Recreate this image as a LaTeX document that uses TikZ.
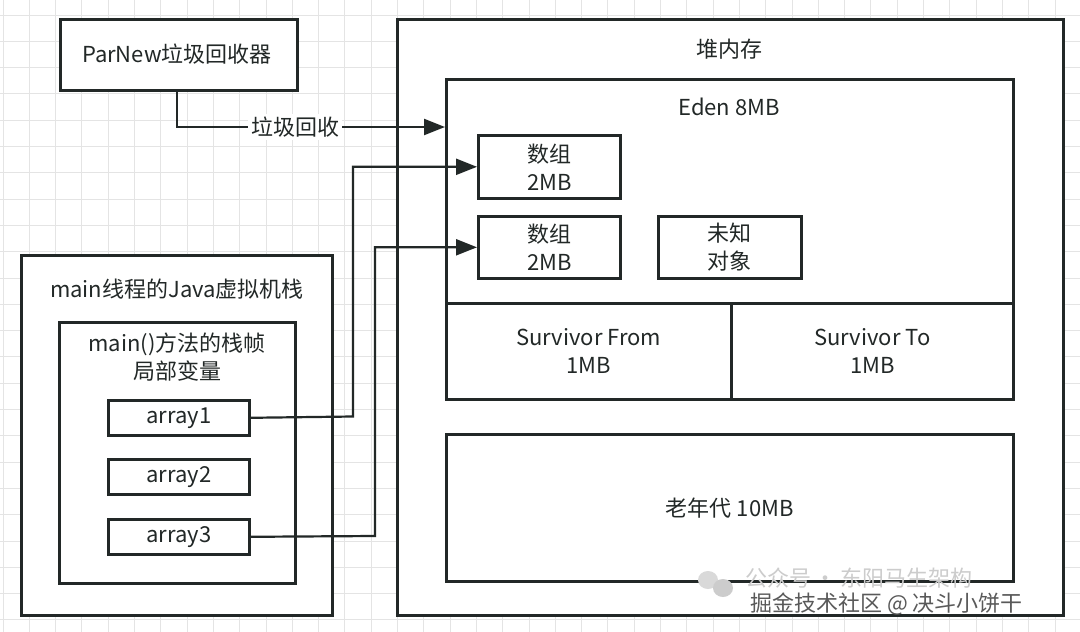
\documentclass[tikz,border=0pt]{standalone}
\usepackage{fontspec}
\setmainfont{Noto Sans CJK SC}
\usetikzlibrary{arrows.meta}
\definecolor{ink}{HTML}{222827}
\definecolor{gridc}{HTML}{E4E4E4}
\tikzset{
  box/.style={draw=ink, line width=2.6pt, fill=white, anchor=north west, inner sep=0pt},
  txt/.style={text=ink, font=\fontsize{22}{28}\selectfont, align=center, inner sep=1pt},
  conn/.style={draw=ink, line width=2.2pt},
  arr/.style={conn, -{Triangle[length=21pt,width=16pt]}},
}
\begin{document}
\begin{tikzpicture}[x=1pt,y=-1pt]
\useasboundingbox (0,0) rectangle (1080,632);
\fill[white] (0,0) rectangle (1080,632);
% grid
\foreach \i in {0,...,41} {
  \draw[gridc, line width=1pt] ({3+26.3*\i},0) -- ({3+26.3*\i},632);
}
\foreach \j in {0,...,24} {
  \draw[gridc, line width=1pt] (0,{-11.3+26.3*\j}) -- (1080,{-11.3+26.3*\j});
}
% ParNew
\node[box, minimum width=237pt, minimum height=71pt] (parnew) at (59,18) {};
\node[txt] (parnewt) at (177,54) {ParNew垃圾回收器};
% Heap
\node[box, minimum width=666pt, minimum height=596pt] (heap) at (396,18) {};
\node[txt] (heapt) at (729,49) {堆内存};
% Eden
\node[box, minimum width=567pt, minimum height=224pt] (eden) at (445,78) {};
\node[txt] (edent) at (729,107) {Eden 8MB};
\node[box, minimum width=142pt, minimum height=63pt] (arr1) at (477,134) {};
\node[txt] at (arr1.center) {数组\\2MB};
\node[box, minimum width=142pt, minimum height=62pt] (arr2) at (477,215) {};
\node[txt] at (arr2.center) {数组\\2MB};
\node[box, minimum width=143pt, minimum height=62pt] (unk) at (657,215) {};
\node[txt] at (unk.center) {未知\\对象};
% Survivors
\node[box, minimum width=285pt, minimum height=96pt] (sfrom) at (445,302) {};
\node[txt] at (sfrom.center) {Survivor From\\1MB};
\node[box, minimum width=282pt, minimum height=96pt] (sto) at (730,302) {};
\node[txt] at (sto.center) {Survivor To\\1MB};
% Old gen
\node[box, minimum width=567pt, minimum height=147pt] (old) at (445,433) {};
\node[txt] at (old.center) {老年代 10MB};
% Stack
\node[box, minimum width=311pt, minimum height=360pt] (stack) at (20,254) {};
\node[txt] (stackt) at (177,289) {main线程的Java虚拟机栈};
\node[box, minimum width=236pt, minimum height=261pt] (frame) at (58,321) {};
\node[txt] (framet) at (177,357) {main()方法的栈帧\\局部变量};
\node[box, minimum width=141pt, minimum height=35pt] (a1) at (107,399) {};
\node[txt] at (a1.center) {array1};
\node[box, minimum width=141pt, minimum height=35pt] (a2) at (107,458) {};
\node[txt] at (a2.center) {array2};
\node[box, minimum width=141pt, minimum height=35pt] (a3) at (107,518) {};
\node[txt] at (a3.center) {array3};
% connectors
\coordinate (gcend) at (eden.west |- 0,127);
\draw[arr] (parnew.south -| 177,0) |- (gcend);
\node[txt, fill=white, inner sep=3pt] (gclabel) at (295,127) {垃圾回收};
\draw[arr] (a1.east) -- (353,416.5) |- (arr1.west);
\draw[arr] (a3.east) -- (375,536) |- (arr2.west);
% watermark
\fill[gray!30] (708,580) ellipse (10pt and 9pt);
\fill[gray!40] (723,588) ellipse (10pt and 9pt);
\node[text=gray!40, anchor=west, inner sep=0pt, font=\fontsize{22}{24}\selectfont] (wm1) at (745,578) {公众号\,·\,东阳马生架构};
\node[text=black!65, anchor=west, inner sep=0pt, font=\fontsize{22}{24}\selectfont] (wm2) at (750,604) {掘金技术社区 @ 决斗小饼干};
\end{tikzpicture}
\end{document}
